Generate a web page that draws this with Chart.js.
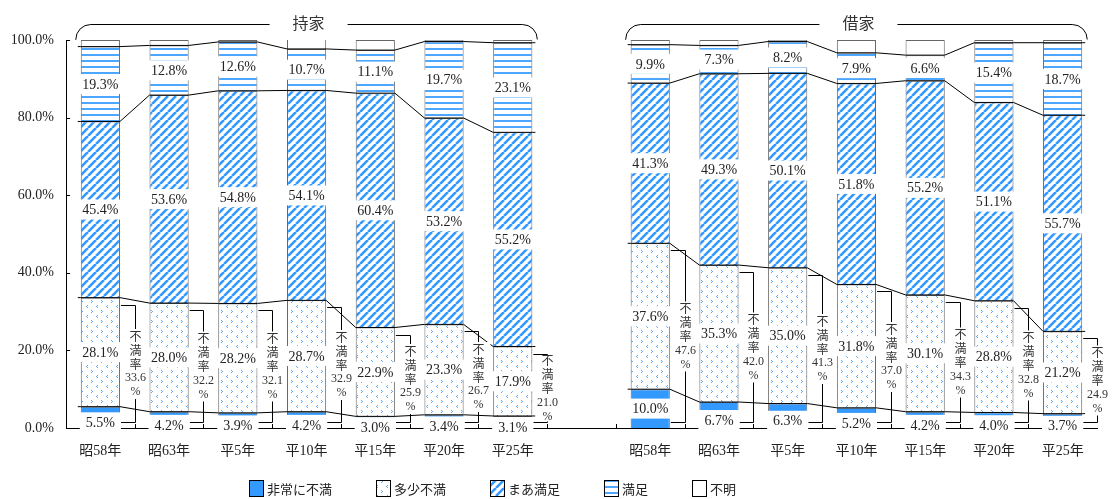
<!DOCTYPE html>
<html><head><meta charset="utf-8">
<script src="https://cdn.jsdelivr.net/npm/chart.js@4"></script>
<style>html,body{margin:0;padding:0;background:#fff}</style>
</head><body>
<canvas id="c" width="1115" height="499"></canvas>
<script>
const periods = ['昭58年','昭63年','平5年','平10年','平15年','平20年','平25年'];
const groupNames = ['持家','借家'];
const seriesNames = ['非常に不満','多少不満','まあ満足','満足','不明'];
const ownVeryDis = [5.5,4.2,3.9,4.2,3.0,3.4,3.1];
const ownSomeDis = [28.1,28.0,28.2,28.7,22.9,23.3,17.9];
const ownRather  = [45.4,53.6,54.8,54.1,60.4,53.2,55.2];
const ownSat     = [19.3,12.8,12.6,10.7,11.1,19.7,23.1];
const ownUnknown = [1.7,1.4,0.5,2.9,2.6,0.4,0.7];
const ownDisRate = [33.6,32.2,32.1,32.9,25.9,26.7,21.0];
const rentVeryDis = [10.0,6.7,6.3,5.2,4.2,4.0,3.7];
const rentSomeDis = [37.6,35.3,35.0,31.8,30.1,28.8,21.2];
const rentRather  = [41.3,49.3,50.1,51.8,55.2,51.1,55.7];
const rentSat     = [9.9,7.3,8.2,7.9,6.6,15.4,18.7];
const rentUnknown = [1.2,1.4,0.4,3.3,3.9,0.7,0.7];
const rentDisRate = [47.6,42.0,41.3,37.0,34.3,32.8,24.9];
const yTicks = [0,20,40,60,80,100];

const joinGroups = (a, b) => [...a, null, ...b];
const categories = [...periods, '', ...periods];
const disRates = [ownDisRate, rentDisRate];

const BLUE = '#3399ff';
function makePattern(kind) {
  const t = document.createElement('canvas');
  const g = t.getContext('2d');
  if (kind === 'diag') {
    t.width = 8; t.height = 8;
    g.fillStyle = '#fff'; g.fillRect(0,0,8,8);
    g.strokeStyle = BLUE; g.lineWidth = 2.6;
    g.beginPath();
    for (const o of [-8,0,8]) { g.moveTo(o, 8); g.lineTo(o+8, 0); }
    g.stroke();
  } else if (kind === 'hlines') {
    t.width = 4; t.height = 6;
    g.fillStyle = '#fff'; g.fillRect(0,0,4,6);
    g.fillStyle = '#4da6ff'; g.fillRect(0,0,4,2);
  } else if (kind === 'dots') {
    t.width = 10; t.height = 10;
    g.fillStyle = '#fff'; g.fillRect(0,0,10,10);
    g.fillStyle = '#5aabff';
    [[1,0],[2,1],[1,2],[7,5],[6,6],[7,7]].forEach(([x,y]) => g.fillRect(x, y, 1, 1));
  }
  return g.createPattern(t, 'repeat');
}
const fills = [BLUE, makePattern('dots'), makePattern('diag'), makePattern('hlines'), '#ffffff'];
const seriesData = [
  joinGroups(ownVeryDis, rentVeryDis),
  joinGroups(ownSomeDis, rentSomeDis),
  joinGroups(ownRather, rentRather),
  joinGroups(ownSat, rentSat),
  joinGroups(ownUnknown, rentUnknown)
];

const SERIF = '"Liberation Serif", "Noto Sans CJK JP", serif';
const CJK = '"Noto Sans CJK JP", sans-serif';

const overlay = {
  id: 'overlay',
  afterDraw(chart) {
    const c = chart.ctx, xs = chart.scales.x, ys = chart.scales.y, area = chart.chartArea;
    const metas = [0,1,2,3,4].map(i => chart.getDatasetMeta(i));
    const groups = [[0,1,2,3,4,5,6],[8,9,10,11,12,13,14]];
    const P = (k, idx) => metas[k].data[idx].getProps(['x','y','base','width'], true);
    const slot = xs.width / categories.length;
    c.save();
    c.strokeStyle = '#000'; c.lineWidth = 1;
    // inner ticks
    c.beginPath();
    yTicks.forEach(t => { const y = Math.round(ys.getPixelForValue(t)) + 0.5; c.moveTo(area.left, y); c.lineTo(area.left + 4, y); });
    for (let i = 1; i < categories.length; i++) { const x = Math.round(area.left + slot*i) + 0.5; c.moveTo(x, area.bottom); c.lineTo(x, area.bottom - 4); }
    c.stroke();
    // series connector lines
    for (const g of groups) {
      for (let k = 0; k < 4; k++) {
        c.beginPath();
        g.forEach((idx, j) => {
          const e = P(k, idx);
          const l = e.x - e.width/2, r = e.x + e.width/2;
          if (j === 0) c.moveTo(l - 3, e.y);
          c.lineTo(l, e.y); c.lineTo(r, e.y);
          if (j === g.length - 1) c.lineTo(r + 3, e.y);
        });
        c.stroke();
      }
    }
    // dissatisfaction brackets (lines)
    const brackets = [];
    groups.forEach((g, gi) => {
      g.forEach((idx, j) => {
        const e = P(0, idx);
        const r = e.x + e.width/2;
        const bx = Math.round(xs.getPixelForValue(idx) + slot/2) + 0.5;
        const yTop = Math.round(ys.getPixelForValue(disRates[gi][j]) + 7) + 0.5;
        const yBot = Math.round(ys.getPixelForValue(1.5)) + 0.5;
        c.beginPath();
        c.moveTo(r + 1, yTop); c.lineTo(bx, yTop); c.lineTo(bx, yBot); c.lineTo(r + 1, yBot);
        c.stroke();
        brackets.push({bx, yTop, yBot, cy: (yTop + yBot)/2, rate: disRates[gi][j]});
      });
    });
    // value labels
    c.textAlign = 'center'; c.textBaseline = 'middle';
    c.font = '14px ' + SERIF;
    for (let k = 0; k < 4; k++) {
      for (const g of groups) for (const idx of g) {
        const v = chart.data.datasets[k].data[idx];
        const e = P(k, idx);
        let cy = (e.y + e.base)/2;
        if (k === 0 && v < 8) cy += 5;
        c.fillStyle = '#fff';
        c.fillRect(e.x - e.width/2 - 1, cy - 10, e.width + 2, 20);
        c.fillStyle = '#222';
        c.fillText(v.toFixed(1) + '%', e.x, cy + 1);
      }
    }
    // bracket texts
    for (const b of brackets) {
      const lines = ['不','満','率', b.rate.toFixed(1), '%'];
      const lh = 14, h = lh * lines.length;
      const top = Math.max(b.cy - h/2, b.yTop + 1), bot = Math.min(b.cy + h/2, b.yBot - 1);
      c.fillStyle = '#fff';
      c.fillRect(b.bx - 12, top, 24, bot - top);
      c.fillStyle = '#333';
      lines.forEach((s, i) => {
        c.font = (i < 3 ? '12px ' + CJK : '12px ' + SERIF);
        c.fillText(s, b.bx, b.cy - h/2 + lh*i + lh/2);
      });
    }
    // group braces
    groups.forEach((g, gi) => {
      const a = P(0, g[0]), z = P(0, g[g.length - 1]);
      const x0 = a.x - a.width/2 - 5, x1 = z.x + z.width/2 + 5;
      const y0 = area.top, y1 = area.top - 15.5, r = 15;
      const cx = (x0 + x1)/2 + 2;
      c.beginPath();
      c.moveTo(x0, y0); c.arcTo(x0, y1, x0 + r, y1, r); c.lineTo(cx - 39, y1);
      c.moveTo(cx + 39, y1); c.lineTo(x1 - r, y1); c.arcTo(x1, y1, x1, y0, r);
      c.stroke();
      c.fillStyle = '#333'; c.font = '16px ' + CJK;
      c.fillText(groupNames[gi], cx, y1 - 2);
    });
    // legend
    let lx = 249; const ly = 480;
    c.textAlign = 'left'; c.font = '13px ' + CJK;
    chart.data.datasets.forEach((d, i) => {
      c.fillStyle = d.backgroundColor;
      c.fillRect(lx, ly, 15, 17);
      c.strokeStyle = '#000';
      c.strokeRect(lx + 0.5, ly + 0.5, 14, 16);
      c.fillStyle = '#222';
      c.fillText(d.label, lx + 18, ly + 9);
      lx += 18 + c.measureText(d.label).width + 44;
    });
    c.restore();
  }
};

new Chart(document.getElementById('c').getContext('2d'), {
  type: 'bar',
  data: {
    labels: categories,
    datasets: seriesNames.map((name, i) => ({
      label: name,
      data: seriesData[i],
      backgroundColor: fills[i],
      borderColor: '#666',
      borderWidth: 1,
      barPercentage: 0.57,
      categoryPercentage: 1.0
    }))
  },
  options: {
    responsive: false,
    animation: false,
    events: [],
    layout: { padding: { top: 40, right: 18, bottom: 31, left: 0 } },
    plugins: { legend: { display: false }, tooltip: { enabled: false } },
    scales: {
      x: {
        stacked: true,
        grid: { display: false, drawTicks: false },
        border: { display: true, color: '#000', width: 1 },
        ticks: { padding: 15, color: '#222', font: { family: SERIF, size: 14 }, autoSkip: false, maxRotation: 0 },
        afterFit: s => { s.height = 40; }
      },
      y: {
        stacked: true, min: 0, max: 100,
        grid: { display: false, drawTicks: false },
        border: { display: true, color: '#000', width: 1 },
        ticks: { stepSize: 20, padding: 12, color: '#222', font: { family: SERIF, size: 14 },
          callback: v => v.toFixed(1) + '%' },
        afterFit: s => { s.width = 66; }
      }
    }
  },
  plugins: [overlay]
});
</script>
</body></html>
